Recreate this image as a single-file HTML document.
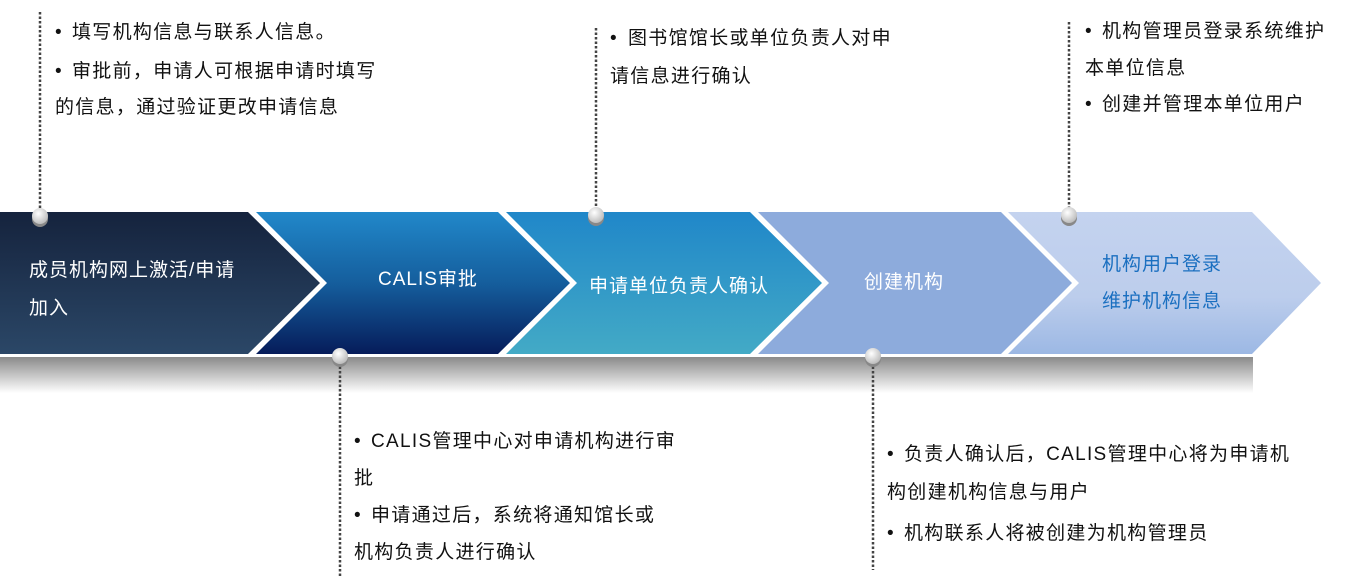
<!DOCTYPE html>
<html><head><meta charset="utf-8"><style>
html,body{margin:0;padding:0;background:#fff;width:1362px;height:578px;overflow:hidden}
svg{display:block}
.t{font-family:"Liberation Sans","Noto Sans CJK SC","WenQuanYi Zen Hei",sans-serif;font-size:19px;letter-spacing:1.3px;fill:#111}
.w{font-family:"Liberation Sans","Noto Sans CJK SC",sans-serif;font-size:19px;letter-spacing:1px;fill:#fff}
</style></head><body>
<svg width="1362" height="578" viewBox="0 0 1362 578">
<defs>
<linearGradient id="g1" x1="0" y1="0" x2="0" y2="1"><stop offset="0" stop-color="#15233d"/><stop offset="1" stop-color="#2b4767"/></linearGradient>
<linearGradient id="g2" x1="0" y1="0" x2="0" y2="1"><stop offset="0" stop-color="#2188ca"/><stop offset="0.5" stop-color="#155e9d"/><stop offset="1" stop-color="#061c5a"/></linearGradient>
<linearGradient id="g3" x1="0" y1="0" x2="0" y2="1"><stop offset="0" stop-color="#2087c9"/><stop offset="1" stop-color="#43aac6"/></linearGradient>
<linearGradient id="g5" x1="0" y1="0" x2="0" y2="1"><stop offset="0" stop-color="#c4d3ef"/><stop offset="0.6" stop-color="#bccdec"/><stop offset="1" stop-color="#9cb8e4"/></linearGradient>
<linearGradient id="sh" x1="0" y1="0" x2="0" y2="1"><stop offset="0" stop-color="#8a8a8a"/><stop offset="1" stop-color="#ffffff"/></linearGradient>
<radialGradient id="pin" cx="0.4" cy="0.35" r="0.7"><stop offset="0" stop-color="#ffffff"/><stop offset="1" stop-color="#b8b8b8"/></radialGradient>
</defs>
<rect x="0" y="357" width="1253" height="36" fill="url(#sh)"/>
<polygon points="0,212 248,212 320,283 248,354 0,354" fill="url(#g1)"/>
<polygon points="256,212 498,212 570,283 498,354 256,354 327,283" fill="url(#g2)"/>
<polygon points="506,212 750,212 822,283 750,354 506,354 577,283" fill="url(#g3)"/>
<polygon points="758,212 1001,212 1072,283 1001,354 758,354 829,283" fill="#8dabdc"/>
<polygon points="1008,212 1252,212 1321,283 1252,354 1008,354 1079,283" fill="url(#g5)"/>
<g stroke="#444" stroke-width="2.5" stroke-dasharray="2.5,2">
<line x1="40" y1="12" x2="40" y2="208"/>
<line x1="596" y1="28" x2="596" y2="208"/>
<line x1="1069" y1="22" x2="1069" y2="208"/>
<line x1="340" y1="362" x2="340" y2="578"/>
<line x1="873" y1="362" x2="873" y2="570"/>
</g>
<g>
<ellipse cx="40" cy="219" rx="8" ry="8" fill="#888"/><ellipse cx="40" cy="216" rx="8" ry="8" fill="url(#pin)"/>
<ellipse cx="596" cy="218" rx="8" ry="8" fill="#888"/><ellipse cx="596" cy="215" rx="8" ry="8" fill="url(#pin)"/>
<ellipse cx="1069" cy="218" rx="8" ry="8" fill="#888"/><ellipse cx="1069" cy="215" rx="8" ry="8" fill="url(#pin)"/>
<ellipse cx="340" cy="359" rx="8" ry="8" fill="#888"/><ellipse cx="340" cy="356" rx="8" ry="8" fill="url(#pin)"/>
<ellipse cx="873" cy="359" rx="8" ry="8" fill="#888"/><ellipse cx="873" cy="356" rx="8" ry="8" fill="url(#pin)"/>
</g>
<text class="w" x="29" y="276">成员机构网上激活/申请</text>
<text class="w" x="29" y="314">加入</text>
<text class="w" x="378" y="285">CALIS审批</text>
<text class="w" x="589" y="292">申请单位负责人确认</text>
<text class="w" x="864" y="288">创建机构</text>
<text class="w" x="1102" y="270" style="fill:#1a6fc0">机构用户登录</text>
<text class="w" x="1102" y="307" style="fill:#1a6fc0">维护机构信息</text>

<text class="t" x="55" y="38">•</text><text class="t" x="72" y="38">填写机构信息与联系人信息。</text>
<text class="t" x="55" y="77">•</text><text class="t" x="72" y="77">审批前，申请人可根据申请时填写</text>
<text class="t" x="55" y="113">的信息，通过验证更改申请信息</text>

<text class="t" x="610" y="44">•</text><text class="t" x="628" y="44">图书馆馆长或单位负责人对申</text>
<text class="t" x="610" y="82">请信息进行确认</text>

<text class="t" x="1085" y="37">•</text><text class="t" x="1102" y="37">机构管理员登录系统维护</text>
<text class="t" x="1085" y="74">本单位信息</text>
<text class="t" x="1085" y="110">•</text><text class="t" x="1102" y="110">创建并管理本单位用户</text>

<text class="t" x="354" y="447">•</text><text class="t" x="371" y="447">CALIS管理中心对申请机构进行审</text>
<text class="t" x="354" y="484">批</text>
<text class="t" x="354" y="521">•</text><text class="t" x="371" y="521">申请通过后，系统将通知馆长或</text>
<text class="t" x="354" y="558">机构负责人进行确认</text>

<text class="t" x="887" y="460">•</text><text class="t" x="904" y="460">负责人确认后，CALIS管理中心将为申请机</text>
<text class="t" x="887" y="498">构创建机构信息与用户</text>
<text class="t" x="887" y="539">•</text><text class="t" x="904" y="539">机构联系人将被创建为机构管理员</text>
</svg>
</body></html>
